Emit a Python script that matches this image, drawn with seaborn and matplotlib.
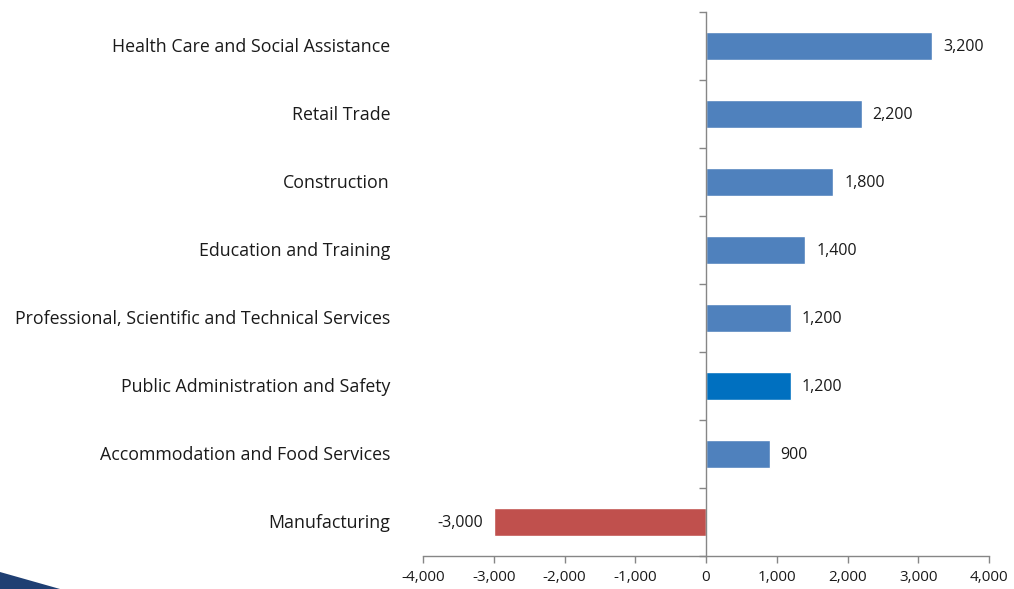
import matplotlib
matplotlib.use("Agg")
import matplotlib.pyplot as plt
import matplotlib.transforms as mtransforms
from matplotlib.patches import Polygon
import seaborn as sns
import pandas as pd

industries = [
    "Health Care and Social Assistance",
    "Retail Trade",
    "Construction",
    "Education and Training",
    "Professional, Scientific and Technical Services",
    "Public Administration and Safety",
    "Accommodation and Food Services",
    "Manufacturing",
]
change = [3200, 2200, 1800, 1400, 1200, 1200, 900, -3000]
bar_colors = ["#4F81BD", "#4F81BD", "#4F81BD", "#4F81BD", "#4F81BD",
              "#0070C0", "#4F81BD", "#C0504D"]
x_ticks = [-4000, -3000, -2000, -1000, 0, 1000, 2000, 3000, 4000]

sns.set_theme(style="white")
plt.rcParams["font.family"] = ["Open Sans", "DejaVu Sans"]

df = pd.DataFrame({"industry": industries, "change": change})

fig = plt.figure(figsize=(10.14, 5.89), dpi=100)
ax = fig.add_axes([423 / 1014, 1 - 556 / 589, (989 - 423) / 1014, (556 - 12) / 589])

sns.barplot(data=df, x="change", y="industry", hue="industry",
            palette=bar_colors, orient="h", width=0.41, legend=False,
            saturation=1, ax=ax)

axis_grey = "#868686"
text_color = "#1a1a1a"
ax.set_xlim(-4000, 4000)
ax.set_ylim(len(industries) - 0.5, -0.5)
ax.set_xlabel("")
ax.set_ylabel("")

for side in ["top", "right"]:
    ax.spines[side].set_visible(False)
ax.spines["left"].set_position(("data", 0))
for side in ["left", "bottom"]:
    ax.spines[side].set_color(axis_grey)
    ax.spines[side].set_linewidth(1.0)

ax.set_xticks(x_ticks)
ax.set_xticklabels([f"{v:,}" for v in x_ticks], fontsize=11, color=text_color)
ax.tick_params(axis="x", bottom=True, direction="out", length=5, width=1,
               color=axis_grey, pad=5)

# category boundary ticks on the zero axis, category names at the far left
ax.set_yticks([i - 0.5 for i in range(len(industries) + 1)])
ax.set_yticklabels([])
ax.tick_params(axis="y", left=True, direction="out", length=5, width=1,
               color=axis_grey)

label_tf = mtransforms.blended_transform_factory(fig.transFigure, ax.transData)
for i, name in enumerate(industries):
    ax.text(390 / 1014, i + 0.02, name, transform=label_tf, ha="right",
            va="center", fontsize=12.8, color=text_color)

# value labels beside each bar
offset = mtransforms.ScaledTranslation(11 / 100, 0, fig.dpi_scale_trans)
offset_neg = mtransforms.ScaledTranslation(-11 / 100, 0, fig.dpi_scale_trans)
for i, v in enumerate(change):
    if v >= 0:
        ax.text(v, i + 0.02, f"{v:,}", transform=ax.transData + offset,
                ha="left", va="center", fontsize=11.5, color=text_color)
    else:
        ax.text(v, i + 0.02, f"{v:,}", transform=ax.transData + offset_neg,
                ha="right", va="center", fontsize=11.5, color=text_color)

# corner swoosh
swoosh = Polygon([(0, 0), (0, 17 / 589), (60 / 1014, 0)], closed=True,
                 transform=fig.transFigure, facecolor="#1F3F73",
                 edgecolor="none", zorder=0)
fig.patches.append(swoosh)

fig.savefig("out.png", dpi=100)
